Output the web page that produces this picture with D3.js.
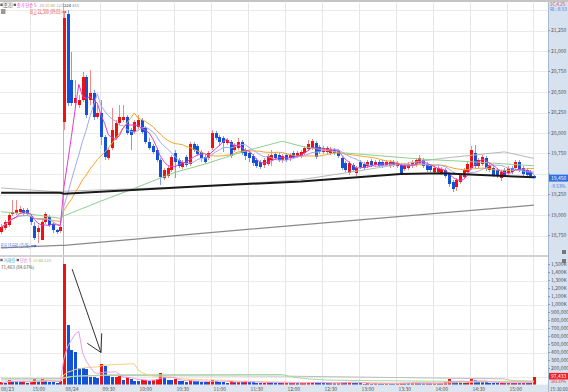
<!DOCTYPE html>
<html><head><meta charset="utf-8">
<script src="https://cdn.jsdelivr.net/npm/d3@7"></script>
<style>
body{margin:0;background:#fff}
svg{display:block}
text{font-family:"Noto Sans CJK KR","DejaVu Sans",sans-serif}
</style></head>
<body><svg id="c" width="568" height="392"></svg>
<script>
// ---------- DATA ----------
// 3-minute candles: 17 from 08/23 (14:42~15:30) followed by 128 from 08/24 (09:00~15:30)
const openP = [18790,18840,18880,19010,19020,19040,19060,19060,18990,18860,18790,18690,18910,18980,18890,18820,18800,
20130,21450,20650,20370,20340,20400,20680,20400,20490,20190,20240,19950,19690,19820,19940,20120,20160,20190,20040,20010,
20070,20160,20060,19890,19840,19790,19670,19450,19480,19550,19760,19670,19580,19710,19620,19870,19840,19770,19710,19690,
19820,20000,19950,19940,19880,19890,19790,19820,19890,19790,19760,19720,19670,19650,19610,19620,19670,19740,19730,19670,
19730,19690,19760,19720,19720,19760,19800,19820,19880,19830,19770,19770,19760,19790,19780,19690,19630,19510,19610,19510,
19650,19620,19600,19660,19610,19650,19650,19610,19600,19650,19600,19610,19560,19570,19600,19610,19630,19670,19620,19600,
19520,19520,19510,19550,19500,19400,19340,19400,19460,19520,19570,19760,19600,19620,19690,19550,19570,19550,19450,19550,
19510,19570,19570,19650,19570,19550,19520,19480];
const highP = [18890,18940,19020,19180,19180,19110,19080,19080,19010,18910,18880,18940,19040,19000,18910,18830,18860,
21460,21500,20990,20650,20460,20740,20710,20770,20520,20340,20400,19980,19820,20300,20160,20340,20340,20220,20060,20160,
20220,20180,20080,19940,19870,19820,19690,19570,19600,19730,19790,19690,19670,19730,19890,19890,19870,19790,19730,19780,
20040,20020,19980,19960,19940,19910,19880,19940,19910,19820,19780,19740,19690,19670,19690,19740,19790,19770,19760,19740,
19760,19760,19780,19780,19790,19840,19910,19930,19900,19850,19840,19840,19830,19820,19800,19720,19660,19660,19630,19600,
19670,19650,19670,19680,19670,19670,19670,19670,19670,19670,19660,19630,19630,19650,19670,19690,19730,19690,19650,19620,
19600,19600,19580,19570,19520,19430,19450,19510,19570,19650,19840,19850,19690,19730,19720,19630,19600,19570,19550,19570,
19600,19600,19670,19670,19600,19570,19550,19490];
const lowP = [18770,18820,18850,18990,19000,19010,18990,18990,18880,18690,18660,18690,18890,18850,18780,18770,18780,
20040,20330,20330,20300,20300,20380,20180,20340,20160,20170,19850,19670,19670,19790,19910,20100,20130,19980,19790,19990,
20050,19990,19870,19790,19740,19650,19370,19430,19450,19520,19450,19570,19560,19580,19600,19770,19720,19650,19620,19670,
19790,19910,19840,19770,19850,19690,19770,19790,19730,19670,19650,19600,19570,19560,19570,19600,19600,19670,19650,19630,
19650,19660,19680,19690,19690,19730,19780,19790,19680,19740,19740,19740,19730,19730,19690,19550,19520,19490,19520,19480,
19560,19550,19570,19580,19580,19570,19570,19580,19570,19580,19570,19490,19540,19550,19570,19580,19610,19570,19520,19520,
19500,19500,19490,19450,19340,19280,19290,19380,19440,19500,19550,19570,19570,19600,19540,19520,19460,19450,19410,19460,
19490,19500,19550,19520,19480,19460,19450,19440];
const closeP = [18850,18910,19000,19040,19060,19070,19010,19010,18910,18720,18840,18910,19010,18880,18820,18790,18850,
21400,20370,20370,20430,20400,20680,20220,20490,20190,20240,19950,19710,19790,20040,20120,20190,20190,20000,19980,20130,
20160,20010,19890,19820,19770,19670,19460,19550,19570,19710,19650,19600,19650,19610,19870,19790,19740,19690,19650,19760,
20000,19940,19890,19880,19910,19720,19850,19890,19760,19720,19690,19630,19600,19580,19670,19720,19730,19690,19670,19720,
19670,19730,19710,19760,19770,19820,19870,19900,19710,19770,19820,19820,19800,19760,19720,19570,19550,19630,19550,19570,
19580,19570,19650,19610,19650,19600,19600,19650,19650,19610,19630,19510,19610,19620,19650,19670,19690,19600,19550,19550,
19570,19570,19560,19480,19380,19320,19430,19490,19550,19620,19790,19600,19670,19710,19560,19610,19490,19480,19520,19490,
19570,19520,19650,19550,19500,19490,19480,19450];
const volume = [30000,25000,55000,40000,35000,30000,45000,25000,30000,70000,40000,65000,45000,35000,30000,25000,50000,
1510000,750000,433000,412000,208000,205000,196000,100000,92000,83000,258000,233000,112000,92000,100000,112000,58000,90000,71000,50000,
45000,55000,60000,50000,60000,71000,142000,100000,60000,55000,70000,45000,40000,35000,55000,45000,40000,35000,30000,35000,
59000,45000,35000,30000,25000,40000,30000,35000,30000,41000,30000,28000,25000,22000,25000,30000,28000,20000,18000,22000,
25000,18000,20000,15000,18000,22000,30000,35000,30000,20000,18000,15000,18000,15000,20000,37000,30000,35000,25000,22000,
15000,12000,15000,12000,14000,12000,10000,14000,12000,10000,12000,25000,20000,18000,22000,25000,22000,18000,20000,15000,
18000,15000,20000,30000,71000,40000,35000,30000,25000,35000,71000,60000,35000,30000,28000,25000,22000,20000,25000,20000,
22000,18000,25000,22000,25000,20000,22000,97433];

// long moving averages: [candle index, value]
const ma60Pts  = [[0,19040],[8,19010],[16,18960],[17,18990],[27,19170],[34,19290],[47,19520],[55,19620],[66,19780],[76,19900],[81,19840],[92,19760],[114,19680],[127,19650],[144,19600]];
const ma120Pts = [[0,19330],[16,19280],[17,19290],[54,19350],[81,19430],[94,19520],[108,19620],[119,19690],[136,19770],[144,19690]];
const ma224Pts = [[0,19270],[16,19270],[17,19260],[54,19350],[81,19410],[108,19500],[119,19510],[144,19460]];
const ma440Pts = [[0,18600],[16,18630],[17,18630],[81,18880],[144,19120]];
const volMa60Pts  = [[0,58000],[16,55000],[17,79000],[19,98000],[21,107000],[27,116000],[29,121000],[76,125000],[78,100000],[80,86000],[83,70000],[86,62000],[88,55000],[100,48000],[120,40000],[144,38000]];
const volMa120Pts = [[0,78000],[16,76000],[17,88000],[19,100000],[21,104000],[28,112000],[76,105000],[136,70000],[137,58000],[139,48000],[144,42000]];

const xTickIdx = [0,8,17,27,37,47,57,67,77,87,97,107,117,127,137];
const xTickLbl = ["08/23","15:00","08/24","09:30","10:00","10:30","11:00","11:30","12:00","12:30","13:00","13:30","14:00","14:30","15:00"];
const priceTicks = [21250,21000,20750,20500,20250,20000,19750,19500,19250,19000,18750];
const volTicks = [1500000,1400000,1300000,1200000,1100000,1000000,900000,800000,700000,600000,500000,400000,300000,200000,100000];
const volGrid = [100000,400000,700000,1000000,1300000];
const highMark = {idx:18, price:21500, text:"최고 21,500 (09:03)"};
const lowMark = {idx:10, price:18660, text:"최저 18,660 (15:06)"};
const arrowPts = [[19.2,1443000],[27,400000]];
const arrowBarbs = [[23.3,515000],[27.2,640000]];

// ---------- DRAW ----------
const svg = d3.select("#c");
const W = 568, plotR = 548;
const RED="#ee1111", BLUE="#1352d8";
const xs = d3.scaleLinear().domain([0,144]).range([1.1,533.9]);
const yP = d3.scaleLinear().domain([18750,21250]).range([235.5,30.5]);
const yV = d3.scaleLinear().domain([0,1500000]).range([384.5,264.5]);
const N = closeP.length;

svg.append("rect").attr("width",W).attr("height",392).attr("fill","#fff");
svg.append("rect").attr("x",0).attr("y",0).attr("width",W).attr("height",2).attr("fill","#c4c4c4");

// grids
const g = svg.append("g").attr("shape-rendering","crispEdges");
d3.range(18750,21750,250).forEach(v=>{
  g.append("line").attr("x1",0).attr("x2",plotR).attr("y1",Math.round(yP(v))+0.5).attr("y2",Math.round(yP(v))+0.5).attr("stroke","#ebebeb");
});
volGrid.forEach(v=>{
  g.append("line").attr("x1",0).attr("x2",plotR).attr("y1",Math.round(yV(v))+0.5).attr("y2",Math.round(yV(v))+0.5).attr("stroke","#ebebeb");
});
xTickIdx.concat([144]).forEach((i)=>{
  if(i===0) return;
  const x = Math.round(xs(i))-0.5;
  g.append("line").attr("x1",x).attr("x2",x).attr("y1",3).attr("y2",384)
   .attr("stroke", i===17 ? "#f3a0a0" : "#e6e6e6");
});
svg.append("rect").attr("x",0).attr("y",255).attr("width",plotR).attr("height",2).attr("fill","#d2d2d2");

// ---------- price panel ----------
const cg = svg.append("g").attr("shape-rendering","crispEdges");
for(let i=0;i<N;i++){
  const up = closeP[i] >= openP[i];
  const x = Math.round(xs(i));
  cg.append("line").attr("x1",x+0.5).attr("x2",x+0.5)
    .attr("y1",yP(highP[i])).attr("y2",yP(lowP[i]))
    .attr("stroke", up ? "#f08a8a" : "#7d9ff0");
  const y1 = yP(Math.max(openP[i],closeP[i])), y2 = yP(Math.min(openP[i],closeP[i]));
  cg.append("rect").attr("x",x-0.7).attr("width",2.6)
    .attr("y",y1).attr("height",Math.max(1,y2-y1))
    .attr("fill", up ? RED : BLUE);
}
function sma(arr,n){ return arr.map((_,i)=>{ const s=Math.max(0,i-n+1); return d3.mean(arr.slice(s,i+1)); }); }
const lineP = d3.line().x(d=>xs(d[0])).y(d=>yP(d[1]));
const ma5 = sma(closeP,5).map((v,i)=>[i,v]);
const ma10 = sma(closeP,10).map((v,i)=>[i,v]);
const ma20 = sma(closeP,20).map((v,i)=>[i,v]);
const lp = svg.append("g").attr("fill","none");
lp.append("path").attr("d",lineP(ma440Pts)).attr("stroke","#8a8a8a").attr("stroke-width",1.3);
lp.append("path").attr("d",lineP(ma120Pts)).attr("stroke","#b9b9b9").attr("stroke-width",1);
lp.append("path").attr("d",lineP(ma60Pts)).attr("stroke","#8fd08f").attr("stroke-width",1);
lp.append("path").attr("d",lineP(ma20)).attr("stroke","#f2a628").attr("stroke-width",1);
lp.append("path").attr("d",lineP(ma10)).attr("stroke","#a3a8f2").attr("stroke-width",1);
lp.append("path").attr("d",lineP(ma5)).attr("stroke","#e23ccf").attr("stroke-width",1);
lp.append("path").attr("d",lineP(ma224Pts)).attr("stroke","#1a1a1a").attr("stroke-width",2);

// ---------- volume panel ----------
const vg = svg.append("g").attr("shape-rendering","crispEdges");
for(let i=0;i<N;i++){
  const up = i===0 ? true : volume[i] >= volume[i-1];
  const x = Math.round(xs(i));
  vg.append("rect").attr("x",x-0.7).attr("width",2.6)
    .attr("y",yV(volume[i])).attr("height",yV(0)-yV(volume[i]))
    .attr("fill", up ? RED : BLUE);
}
const lineV = d3.line().x(d=>xs(d[0])).y(d=>yV(d[1]));
const lv = svg.append("g").attr("fill","none").attr("stroke-width",1);
lv.append("path").attr("d",lineV(volMa120Pts)).attr("stroke","#bdbdbd");
lv.append("path").attr("d",lineV(volMa60Pts)).attr("stroke","#9fdc9f");
lv.append("path").attr("d",lineV(sma(volume,20).map((v,i)=>[i,v]))).attr("stroke","#f6cf7d");
lv.append("path").attr("d",lineV(sma(volume,5).map((v,i)=>[i,v]))).attr("stroke","#f09be6");

// annotation arrow
const ag = svg.append("g").attr("stroke","#333").attr("stroke-width",1).attr("fill","none");
ag.append("line").attr("x1",xs(arrowPts[0][0])).attr("y1",yV(arrowPts[0][1])).attr("x2",xs(arrowPts[1][0])).attr("y2",yV(arrowPts[1][1]));
arrowBarbs.forEach(b=>ag.append("line").attr("x1",xs(b[0])).attr("y1",yV(b[1])).attr("x2",xs(arrowPts[1][0])).attr("y2",yV(arrowPts[1][1])));

// high / low markers
const hx = xs(highMark.idx), hy = yP(highMark.price)+2;
svg.append("text").attr("x",hx-38).attr("y",hy+1.8).attr("font-size",5.5).attr("fill","#f04848")
   .attr("textLength",32).attr("lengthAdjust","spacingAndGlyphs").text(highMark.text);
svg.append("path").attr("d",`M${hx-5.5},${hy}L${hx-1.5},${hy}`).attr("stroke","#f04848").attr("stroke-width",1);
svg.append("path").attr("d",`M${hx-1},${hy}l-2,-1.5v3z`).attr("fill","#f04848");
const lx = xs(lowMark.idx), ly = yP(lowMark.price)+3;
svg.append("text").attr("x",0.5).attr("y",ly+1.8).attr("font-size",5.5).attr("fill","#4a6fd8")
   .attr("textLength",lx-9).attr("lengthAdjust","spacingAndGlyphs").text(lowMark.text);
svg.append("path").attr("d",`M${lx-7},${ly}L${lx-2},${ly}`).attr("stroke","#3b5fd0").attr("stroke-width",1);
svg.append("path").attr("d",`M${lx-1.5},${ly}l-2,-1.5v3z`).attr("fill","#3b5fd0");

// ---------- legends ----------
function legend(y, fs, items){
  items.forEach(it=>{
    if(it.sq){ svg.append("rect").attr("x",it.x).attr("y",y-3.2).attr("width",2.4).attr("height",2.4).attr("fill",it.c); return; }
    const t = svg.append("text").attr("x",it.x).attr("y",y).attr("font-size",fs).attr("fill",it.c).text(it.t);
    if(it.box){ const b=t.node().getBBox(); svg.insert("rect","text").attr("x",b.x-0.8).attr("y",y-fs+0.3).attr("width",b.width+1.6).attr("height",fs+0.6).attr("fill","#fff").attr("stroke","#aaa").attr("stroke-width",0.5); }
  });
}
legend(6.8,4.2,[{sq:1,x:0.3,c:"#666"},{x:3.8,t:"종가",c:"#444",box:1},{sq:1,x:13.6,c:"#666"},
  {x:16.8,t:"종가 단순 5",c:"#e23ccf"},{x:39.5,t:"10",c:"#8d93ee"},{x:45,t:"20",c:"#f2a628"},{x:50.5,t:"60",c:"#6cc46c"},
  {x:56.3,t:"120",c:"#a8a8a8"},{x:64,t:"224",c:"#222"},{x:72,t:"440",c:"#999"}]);
svg.append("rect").attr("x",1).attr("y",9).attr("width",4.5).attr("height",5).attr("fill","#9a9a9a");
legend(262,4.2,[{sq:1,x:0.3,c:"#666"},{x:3.5,t:"거래량",c:"#2aa3c8"},{sq:1,x:16.6,c:"#666"},
  {x:20,t:"단순 5",c:"#e867d8"},{x:33,t:"20",c:"#e6b54a"},{x:38.5,t:"60",c:"#6cc46c"},{x:44,t:"120",c:"#a8a8a8"}]);
svg.append("text").attr("x",1).attr("y",268.8).attr("font-size",4.5).attr("fill","#555").text("71,463 (84.67%)");

// ---------- right axis ----------
svg.append("rect").attr("x",plotR).attr("y",2).attr("width",W-plotR).attr("height",390).attr("fill","#d7e2f0");
svg.append("line").attr("x1",plotR+0.5).attr("x2",plotR+0.5).attr("y1",2).attr("y2",392).attr("stroke","#a8b8cf");
const lastC = closeP[N-1], lastV = volume[N-1];
const ax = svg.append("g").attr("font-size",5).attr("fill","#555");
priceTicks.forEach(v=>{
  const y = yP(v);
  ax.append("line").attr("x1",plotR).attr("x2",plotR+2).attr("y1",y).attr("y2",y).attr("stroke","#8a9ab0");
  if(Math.abs(y-yP(lastC))>7) ax.append("text").attr("x",plotR+3).attr("y",y+1.8).text(d3.format(",")(v));
});
volTicks.forEach(v=>{
  const y = yV(v);
  ax.append("line").attr("x1",plotR).attr("x2",plotR+2).attr("y1",y).attr("y2",y).attr("stroke","#8a9ab0");
  if(Math.abs(y-yV(lastV))>5) ax.append("text").attr("x",plotR+3).attr("y",y+1.8).text(v>=1000000 ? d3.format(",")(v/1000)+"K" : d3.format(",")(v));
});
// current price box
svg.append("rect").attr("x",plotR+1).attr("y",yP(lastC)-3.5).attr("width",W-plotR-1).attr("height",7).attr("fill","#2f6fe0");
svg.append("text").attr("x",plotR+3).attr("y",yP(lastC)+2).attr("font-size",5).attr("fill","#fff").text(d3.format(",")(lastC));
svg.append("text").attr("x",plotR+3).attr("y",yP(lastC)+9.5).attr("font-size",4.5).attr("fill","#2f6fe0").text("-9.53%");
// current volume box
svg.append("rect").attr("x",plotR+1).attr("y",yV(lastV)-3.8).attr("width",W-plotR-1).attr("height",6.6).attr("fill","#f02020");
svg.append("text").attr("x",plotR+3).attr("y",yV(lastV)+1.6).attr("font-size",5).attr("fill","#fff").text(d3.format(",")(lastV));
svg.append("text").attr("x",plotR+3).attr("y",yV(lastV)+6.3).attr("font-size",3.8).attr("fill","#e03030").text("384.67%");
// top right info
svg.append("text").attr("x",plotR+2).attr("y",6).attr("font-size",4.5).attr("fill","#e04040").text("1C,4.25");
svg.append("text").attr("x",plotR+2).attr("y",11).attr("font-size",4.5).attr("fill","#3a6ad8").text("RL:-8.53");
svg.append("rect").attr("x",562).attr("y",250).attr("width",4).attr("height",4).attr("fill","#777");
svg.append("rect").attr("x",562).attr("y",259).attr("width",4).attr("height",4).attr("fill","#777");

// ---------- x axis ----------
svg.append("rect").attr("x",0).attr("y",384.5).attr("width",plotR).attr("height",7.5).attr("fill","#dde5ef");
const xa = svg.append("g").attr("font-size",5).attr("fill","#555");
xTickIdx.forEach((i,k)=>{
  xa.append("text").attr("x", i===0 ? 1 : Math.round(xs(i))+1.5).attr("y",390.8).text(xTickLbl[k]);
});
xa.append("text").attr("x",plotR+2).attr("y",391.3).attr("font-size",4.6).text("15:30:00");
</script></body></html>
